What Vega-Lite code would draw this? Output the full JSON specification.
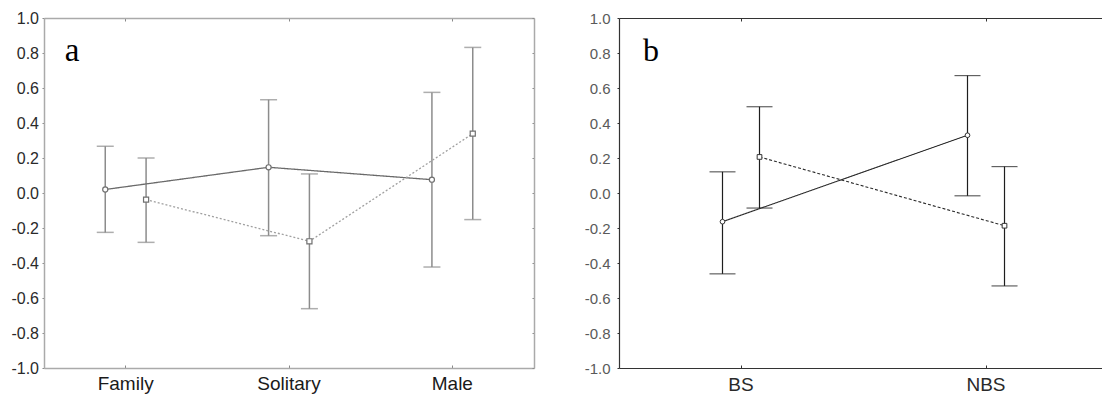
{
  "$schema": "https://vega.github.io/schema/vega-lite/v6.json",
  "padding": {"left": 10, "top": 10, "right": 0, "bottom": 0},
  "spacing": 49,
  "background": "white",
  "config": {"view": {"stroke": null}, "font": "Liberation Sans", "axis": {"grid": false, "labelFont": "Liberation Sans"}},
  "resolve": {"scale": {"x": "independent", "y": "independent", "xOffset": "independent", "color": "independent", "strokeDash": "independent", "shape": "independent"}},
  "datasets": {
    "a": [
      {"group": "Family", "series": "circle", "mean": 0.02, "lo": -0.225, "hi": 0.267},
      {"group": "Family", "series": "square", "mean": -0.038, "lo": -0.282, "hi": 0.2},
      {"group": "Solitary", "series": "circle", "mean": 0.147, "lo": -0.244, "hi": 0.533},
      {"group": "Solitary", "series": "square", "mean": -0.276, "lo": -0.661, "hi": 0.109},
      {"group": "Male", "series": "circle", "mean": 0.076, "lo": -0.423, "hi": 0.575},
      {"group": "Male", "series": "square", "mean": 0.339, "lo": -0.152, "hi": 0.832}
    ],
    "b": [
      {"group": "BS", "series": "circle", "mean": -0.164, "lo": -0.462, "hi": 0.121},
      {"group": "BS", "series": "square", "mean": 0.206, "lo": -0.086, "hi": 0.493},
      {"group": "NBS", "series": "circle", "mean": 0.33, "lo": -0.016, "hi": 0.671},
      {"group": "NBS", "series": "square", "mean": -0.187, "lo": -0.531, "hi": 0.151}
    ]
  },
  "hconcat": [
    {
      "width": 490,
      "height": 350,
      "data": {"name": "a"},
      "resolve": {"axis": {"x": "independent", "y": "independent"}},
      "layer": [
        {
          "mark": {"type": "rule", "color": "#8c8c8c", "strokeWidth": 1.5},
          "encoding": {
            "x": {"field": "group", "type": "nominal", "sort": ["Family", "Solitary", "Male"], "scale": {"paddingInner": 0, "paddingOuter": 0},
              "axis": {"orient": "bottom", "title": null, "labelAngle": 0, "labelFontSize": 19, "labelColor": "#1a1a1a", "domainColor": "#aaaaaa", "domainWidth": 1.5, "tickColor": "#888888", "tickSize": -3, "labelPadding": 9}},
            "xOffset": {"field": "series", "type": "nominal", "sort": ["circle", "square"], "scale": {"paddingOuter": 2.27}},
            "y": {"field": "lo", "type": "quantitative", "scale": {"domain": [-1, 1], "nice": false},
              "axis": {"orient": "left", "title": null, "values": [-1, -0.8, -0.6, -0.4, -0.2, 0, 0.2, 0.4, 0.6, 0.8, 1], "labelExpr": "replace(format(datum.value, '.1f'), '−', '-')", "labelFontSize": 16, "labelColor": "#2a2a2a", "domainColor": "#aaaaaa", "domainWidth": 1.5, "tickColor": "#888888", "tickSize": 2, "labelPadding": 3.5}},
            "y2": {"field": "hi"}
          }
        },
        {
          "mark": {"type": "tick", "color": "#8c8c8c", "size": 17, "thickness": 1.5},
          "encoding": {
            "x": {"field": "group", "type": "nominal", "sort": ["Family", "Solitary", "Male"],
              "axis": {"orient": "top", "title": null, "labels": false, "domainColor": "#aaaaaa", "domainWidth": 1.5, "tickColor": "#888888", "tickSize": -3}},
            "xOffset": {"field": "series", "type": "nominal", "sort": ["circle", "square"]},
            "y": {"field": "lo", "type": "quantitative",
              "axis": {"orient": "right", "title": null, "labels": false, "values": [-1, -0.8, -0.6, -0.4, -0.2, 0, 0.2, 0.4, 0.6, 0.8, 1], "domainColor": "#aaaaaa", "domainWidth": 1.5, "tickColor": "#888888", "tickSize": -2}}
          }
        },
        {
          "mark": {"type": "tick", "color": "#8c8c8c", "size": 17, "thickness": 1.5},
          "encoding": {
            "x": {"field": "group", "type": "nominal", "sort": ["Family", "Solitary", "Male"], "axis": null},
            "xOffset": {"field": "series", "type": "nominal", "sort": ["circle", "square"]},
            "y": {"field": "hi", "type": "quantitative", "axis": null}
          }
        },
        {
          "mark": {"type": "line", "strokeWidth": 1.3},
          "encoding": {
            "x": {"field": "group", "type": "nominal", "sort": ["Family", "Solitary", "Male"], "axis": null},
            "xOffset": {"field": "series", "type": "nominal", "sort": ["circle", "square"]},
            "y": {"field": "mean", "type": "quantitative", "axis": null},
            "color": {"field": "series", "type": "nominal", "scale": {"domain": ["circle", "square"], "range": ["#6a6a6a", "#a0a0a0"]}, "legend": null},
            "strokeDash": {"field": "series", "type": "nominal", "scale": {"domain": ["circle", "square"], "range": [[1, 0], [2, 2]]}, "legend": null}
          }
        },
        {
          "mark": {"type": "point", "filled": false, "fill": "white", "fillOpacity": 1, "opacity": 1, "color": "#707070", "strokeWidth": 1.2, "size": 26},
          "encoding": {
            "x": {"field": "group", "type": "nominal", "sort": ["Family", "Solitary", "Male"], "axis": null},
            "xOffset": {"field": "series", "type": "nominal", "sort": ["circle", "square"]},
            "y": {"field": "mean", "type": "quantitative", "axis": null},
            "shape": {"field": "series", "type": "nominal", "scale": {"domain": ["circle", "square"], "range": ["circle", "square"]}, "legend": null}
          }
        },
        {
          "data": {"values": [{"label": "a", "group": "Family", "v": 0.756}]},
          "mark": {"type": "text", "font": "Liberation Serif", "fontSize": 33, "align": "left", "baseline": "alphabetic", "dx": -61, "color": "#000000"},
          "encoding": {
            "x": {"field": "group", "type": "nominal", "sort": ["Family", "Solitary", "Male"], "axis": null},
            "y": {"field": "v", "type": "quantitative", "axis": null},
            "text": {"field": "label"}
          }
        }
      ]
    },
    {
      "width": 483,
      "height": 350,
      "data": {"name": "b"},
      "resolve": {"axis": {"x": "independent", "y": "independent"}},
      "layer": [
        {
          "mark": {"type": "rule", "color": "#1e1e1e", "strokeWidth": 1.2},
          "encoding": {
            "x": {"field": "group", "type": "nominal", "sort": ["BS", "NBS"], "scale": {"paddingInner": 0.5, "paddingOuter": 0.2357, "align": 0.526},
              "axis": {"orient": "bottom", "title": null, "labelAngle": 0, "labelFontSize": 19, "labelColor": "#2a2a2a", "domainColor": "#333333", "domainWidth": 1.2, "tickColor": "#333333", "tickSize": -3, "labelPadding": 10}},
            "xOffset": {"field": "series", "type": "nominal", "sort": ["circle", "square"], "scale": {"paddingOuter": 0.655}},
            "y": {"field": "lo", "type": "quantitative", "scale": {"domain": [-1, 1], "nice": false},
              "axis": {"orient": "left", "title": null, "values": [-1, -0.8, -0.6, -0.4, -0.2, 0, 0.2, 0.4, 0.6, 0.8, 1], "labelExpr": "replace(format(datum.value, '.1f'), '−', '-')", "labelFontSize": 15, "labelColor": "#5a5a5a", "domainColor": "#333333", "domainWidth": 1.2, "tickColor": "#333333", "tickSize": 2, "labelPadding": 7}},
            "y2": {"field": "hi"}
          }
        },
        {
          "mark": {"type": "tick", "color": "#1e1e1e", "size": 26, "thickness": 1.2},
          "encoding": {
            "x": {"field": "group", "type": "nominal", "sort": ["BS", "NBS"],
              "axis": {"orient": "top", "title": null, "labels": false, "domainColor": "#333333", "domainWidth": 1.2, "tickColor": "#333333", "tickSize": -3}},
            "xOffset": {"field": "series", "type": "nominal", "sort": ["circle", "square"]},
            "y": {"field": "lo", "type": "quantitative", "axis": null}
          }
        },
        {
          "mark": {"type": "tick", "color": "#1e1e1e", "size": 26, "thickness": 1.2},
          "encoding": {
            "x": {"field": "group", "type": "nominal", "sort": ["BS", "NBS"], "axis": null},
            "xOffset": {"field": "series", "type": "nominal", "sort": ["circle", "square"]},
            "y": {"field": "hi", "type": "quantitative", "axis": null}
          }
        },
        {
          "mark": {"type": "line", "strokeWidth": 1.1},
          "encoding": {
            "x": {"field": "group", "type": "nominal", "sort": ["BS", "NBS"], "axis": null},
            "xOffset": {"field": "series", "type": "nominal", "sort": ["circle", "square"]},
            "y": {"field": "mean", "type": "quantitative", "axis": null},
            "color": {"field": "series", "type": "nominal", "scale": {"domain": ["circle", "square"], "range": ["#2a2a2a", "#2a2a2a"]}, "legend": null},
            "strokeDash": {"field": "series", "type": "nominal", "scale": {"domain": ["circle", "square"], "range": [[1, 0], [3, 2]]}, "legend": null}
          }
        },
        {
          "mark": {"type": "point", "filled": false, "fill": "white", "fillOpacity": 1, "opacity": 1, "color": "#333333", "strokeWidth": 1, "size": 22},
          "encoding": {
            "x": {"field": "group", "type": "nominal", "sort": ["BS", "NBS"], "axis": null},
            "xOffset": {"field": "series", "type": "nominal", "sort": ["circle", "square"]},
            "y": {"field": "mean", "type": "quantitative", "axis": null},
            "shape": {"field": "series", "type": "nominal", "scale": {"domain": ["circle", "square"], "range": ["circle", "square"]}, "legend": null}
          }
        },
        {
          "data": {"values": [{"label": "b", "group": "BS", "v": 0.756}]},
          "mark": {"type": "text", "font": "Liberation Serif", "fontSize": 32, "align": "left", "baseline": "alphabetic", "dx": -98, "color": "#000000"},
          "encoding": {
            "x": {"field": "group", "type": "nominal", "sort": ["BS", "NBS"], "axis": null},
            "y": {"field": "v", "type": "quantitative", "axis": null},
            "text": {"field": "label"}
          }
        }
      ]
    }
  ]
}
